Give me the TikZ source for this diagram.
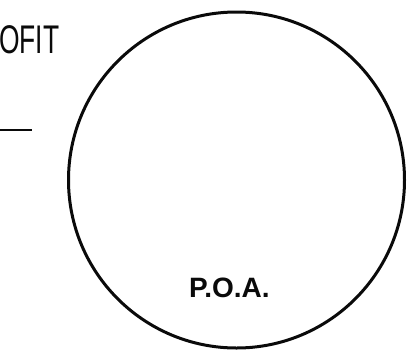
\documentclass[tikz,border=0pt]{standalone}
\usepackage{fontspec}
\setmainfont{Liberation Sans}
\usepackage{xcolor}
\usepackage{tikz}
\usetikzlibrary{positioning}
\definecolor{ink}{RGB}{10,10,10}
\tikzset{
  caption/.style={
    text=ink,
    inner sep=0pt,
    anchor=base west
  },
  zone/.style={
    draw=ink,
    line width=3pt,
    circle,
    inner sep=0pt,
    minimum size=336pt
  },
  rule/.style={draw=ink, line width=2pt}
}

\begin{document}
\begin{tikzpicture}[x=1pt, y=-1pt]
  \useasboundingbox (0,0) rectangle (415,349);
  \node[caption, font=\fontsize{40}{42}\selectfont, xscale=0.66] (profit) at (-1,53) {OFIT};
  \node[zone] (poa) at (236.5,180) {};
  \node[caption, font=\bfseries\fontsize{28}{30}\selectfont] (poaLabel) at (189,297) {P.O.A.};
  \coordinate (ruleStart) at (0,130);
  \coordinate (ruleEnd) at (32,130);
  \draw[rule] (ruleStart) -- (ruleEnd);
\end{tikzpicture}
\end{document}
